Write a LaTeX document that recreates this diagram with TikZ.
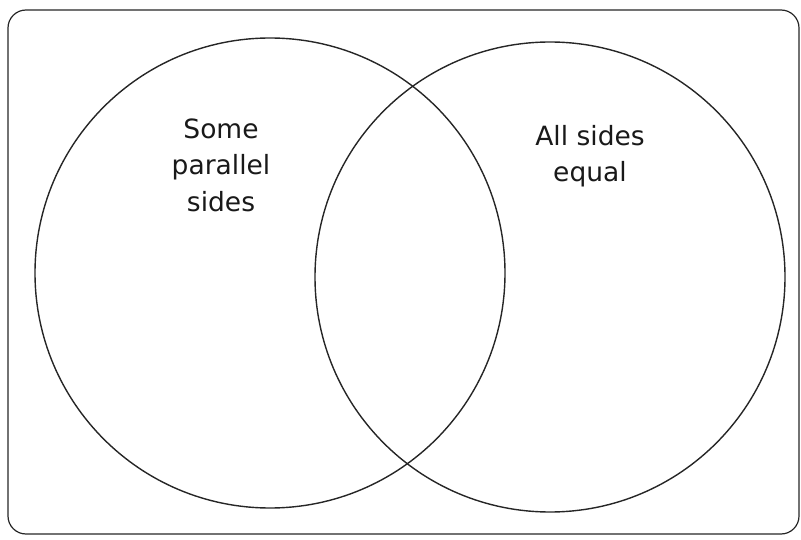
\documentclass[tikz,border=0pt]{standalone}
\usepackage{fontspec}
\setmainfont{DejaVu Sans}
\begin{document}
\begin{tikzpicture}[x=1pt,y=-1pt,
  frame/.style={draw=black!85, line width=1.2pt, rounded corners=18pt},
  set/.style={circle, draw=black!85, line width=1.4pt, minimum size=470pt, inner sep=0pt},
  label/.style={align=center, inner sep=0pt, font=\fontsize{26.5}{36.5}\selectfont, text=black!90}]
\useasboundingbox (0,0) rectangle (801,540);
\draw[frame] (8,10) rectangle (799,534);
\node[set] (L) at (270,273) {};
\node[set] (R) at (550,277) {};
\node[label] (lt) at (221,165) {Some\\parallel\\sides};
\node[label] (rt) at (590,156) {All sides\\equal};
\end{tikzpicture}
\end{document}
